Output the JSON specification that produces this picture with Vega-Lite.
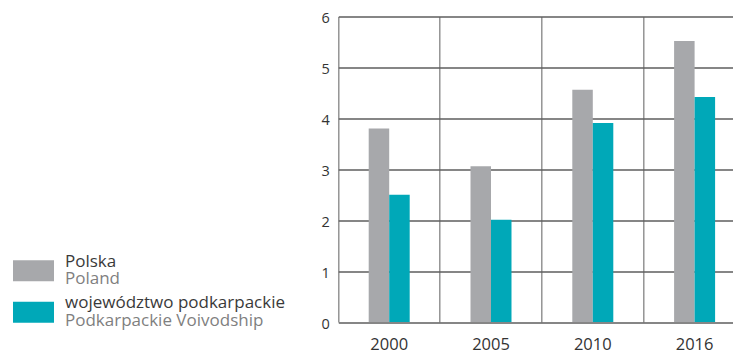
{
  "$schema": "https://vega.github.io/schema/vega-lite/v6.json",
  "autosize": {"type": "none"},
  "width": 394.7,
  "height": 305.5,
  "padding": {"left": 338.3, "top": 16.5, "right": 0, "bottom": 31},
  "background": "white",
  "data": {
    "values": [
      {"year": "2000", "series": "Polska", "series_en": "Poland", "value": 3.8},
      {"year": "2000", "series": "województwo podkarpackie", "series_en": "Podkarpackie Voivodship", "value": 2.5},
      {"year": "2005", "series": "Polska", "series_en": "Poland", "value": 3.06},
      {"year": "2005", "series": "województwo podkarpackie", "series_en": "Podkarpackie Voivodship", "value": 2.01},
      {"year": "2010", "series": "Polska", "series_en": "Poland", "value": 4.56},
      {"year": "2010", "series": "województwo podkarpackie", "series_en": "Podkarpackie Voivodship", "value": 3.91},
      {"year": "2016", "series": "Polska", "series_en": "Poland", "value": 5.52},
      {"year": "2016", "series": "województwo podkarpackie", "series_en": "Podkarpackie Voivodship", "value": 4.42}
    ]
  },
  "mark": {"type": "bar", "strokeWidth": 0},
  "encoding": {
    "x": {
      "field": "year", "type": "nominal",
      "scale": {"paddingInner": 0, "paddingOuter": 0, "range": [0, 407.2]},
      "axis": {
        "title": null, "labelAngle": 0, "ticks": false, "domain": false,
        "labelFontSize": 16.5, "labelColor": "#333333", "labelPadding": 14,
        "grid": true, "bandPosition": 0, "gridColor": "#8c8c8c", "gridWidth": 1.4
      }
    },
    "xOffset": {
      "field": "series", "type": "nominal",
      "scale": {"domain": ["Polska", "województwo podkarpackie"], "paddingInner": 0, "paddingOuter": 0, "range": [30.4, 71.4]}
    },
    "y": {
      "field": "value", "type": "quantitative",
      "scale": {"domain": [0, 6], "nice": false},
      "axis": {
        "title": null, "values": [0, 1, 2, 3, 4, 5, 6], "ticks": false, "domain": false,
        "labelFontSize": 14.5, "labelColor": "#333333", "labelPadding": 9, "labelOffset": 2,
        "grid": true, "gridColor": "#5e5e5e", "gridWidth": 1.4
      }
    },
    "fill": {
      "field": "series", "type": "nominal",
      "scale": {"domain": ["Polska", "województwo podkarpackie"], "range": ["#a7a8ab", "#00a8b8"]},
      "legend": {
        "title": null, "orient": "none", "legendX": -325.3, "legendY": 233.8,
        "direction": "vertical", "padding": 0,
        "symbolType": "M-1,-0.512H1V0.512H-1Z", "symbolSize": 1681, "symbolStrokeWidth": 0,
        "labelFontSize": 17, "labelColor": "#3a3a3a", "labelBaseline": "bottom",
        "labelOffset": 11, "labelLimit": 0, "rowPadding": 10.5
      }
    },
    "stroke": {
      "field": "series_en", "type": "nominal",
      "scale": {"domain": ["Poland", "Podkarpackie Voivodship"], "range": ["#a7a8ab", "#00a8b8"]},
      "legend": {
        "title": null, "orient": "none", "legendX": -325.3, "legendY": 251.3,
        "direction": "vertical", "padding": 0,
        "symbolType": "M-1,-0.512H1V0.512H-1Z", "symbolSize": 1681, "symbolStrokeWidth": 0,
        "symbolOpacity": 0, "symbolFillColor": "transparent", "symbolStrokeColor": "transparent",
        "labelFontSize": 17, "labelColor": "#7f7f7f", "labelBaseline": "bottom",
        "labelOffset": 11, "labelLimit": 0, "rowPadding": 10.5
      }
    }
  },
  "config": {
    "font": "Open Sans",
    "view": {"stroke": null}
  }
}
